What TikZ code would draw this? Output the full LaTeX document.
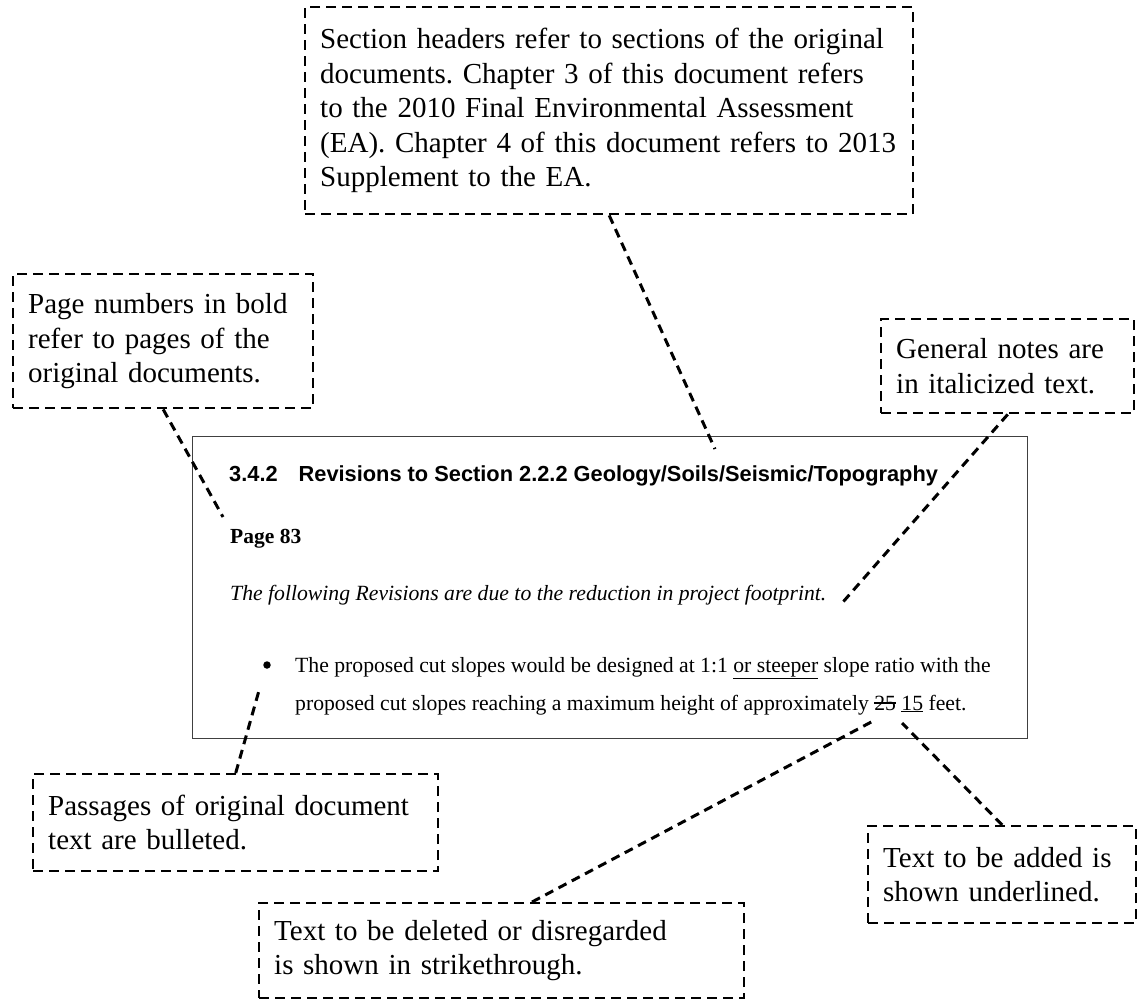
\documentclass[tikz,border=0pt]{standalone}
\usepackage{fontspec}
\setmainfont{Liberation Serif}
\newfontfamily\arialfont{Liberation Sans}
\usepackage{tikz}
\usetikzlibrary{positioning}
\newcommand{\strk}[1]{\sbox0{#1}\rlap{\rule[0.3em]{\wd0}{0.06em}}\usebox0}
\frenchspacing

\begin{document}
\begin{tikzpicture}[x = 1pt, y = -1pt]
	\tikzstyle{callout} = [rectangle, draw = black, line width = 2.4pt, dash pattern = on 10pt off 6pt, anchor = north west, inner xsep = 15pt, inner ysep = 0pt, align = left, font = \fontsize{29}{34.5}\selectfont]
	\tikzstyle{leader} = [draw = black, line width = 3pt, dash pattern = on 9pt off 6pt]
	\tikzstyle{body} = [anchor = base west, inner sep = 0pt, font = \fontsize{21.7}{24}\selectfont]
\useasboundingbox (0, 0) rectangle (1145, 999);
% the excerpt
\node[rectangle, draw = black!75, line width = 1.3pt, anchor = north west, minimum width = 835, minimum height = 302, inner sep = 0pt] (box) at (192, 436) {};
\node[body, font = \arialfont\bfseries\fontsize{21.8}{24}\selectfont] (hdr) at (229, 481) {3.4.2\hspace{21pt}Revisions to Section 2.2.2 Geology/Soils/Seismic/Topography};
\node[body, font = \bfseries\fontsize{21.5}{24}\selectfont] (pg) at (230, 543) {Page 83};
\node[body, font = \itshape\fontsize{21.7}{24}\selectfont] (note) at (230, 600) {The following Revisions are due to the reduction in project footprint.};
\node[circle, fill = black, inner sep = 0pt, minimum size = 7.5pt] (dot) at (267, 665) {};
\node[body] (l1) at (295, 672) {The proposed cut slopes would be designed at 1:1 \underline{or steeper} slope ratio with the};
\node[body] (l2) at (295, 710) {proposed cut slopes reaching a maximum height of approximately \strk{25} \underline{15} feet.};
% callouts
\node[callout, text width = 578, minimum height = 207] (sec) at (304, 6) {Section headers refer to sections of the original\\documents. Chapter 3 of this document refers\\to the 2010 Final Environmental Assessment\\(EA). Chapter 4 of this document refers to 2013\\Supplement to the EA.};
\node[callout, text width = 270, minimum height = 134] (pages) at (12, 273) {Page numbers in bold\\refer to pages of the\\original documents.};
\node[callout, text width = 223, minimum height = 94] (gen) at (880, 318) {General notes are\\in italicized text.};
\node[callout, text width = 375, minimum height = 97] (pass) at (32, 773) {Passages of original document\\text are bulleted.};
\node[callout, text width = 238, minimum height = 97] (add) at (867, 825) {Text to be added is\\shown underlined.};
\node[callout, text width = 455, minimum height = 95] (del) at (258, 902) {Text to be deleted or disregarded\\is shown in strikethrough.};
% leader ends
\coordinate (secend) at (715, 449);
\coordinate (pagesend) at (223, 517);
\coordinate (genend) at (843, 602);
\coordinate (passend) at (260, 687);
\coordinate (addend) at (902, 723);
\coordinate (delend) at (875, 720);
\coordinate (delstart) at (532, 902);
	\path[leader] (sec.south) -- (secend);
	\path[leader] (pages.south) -- (pagesend);
	\path[leader] (gen.south) -- (genend);
	\path[leader] (pass.north) -- (passend);
	\path[leader] (add.north) -- (addend);
	\path[leader] (delstart) -- (delend);
\end{tikzpicture}
\end{document}
